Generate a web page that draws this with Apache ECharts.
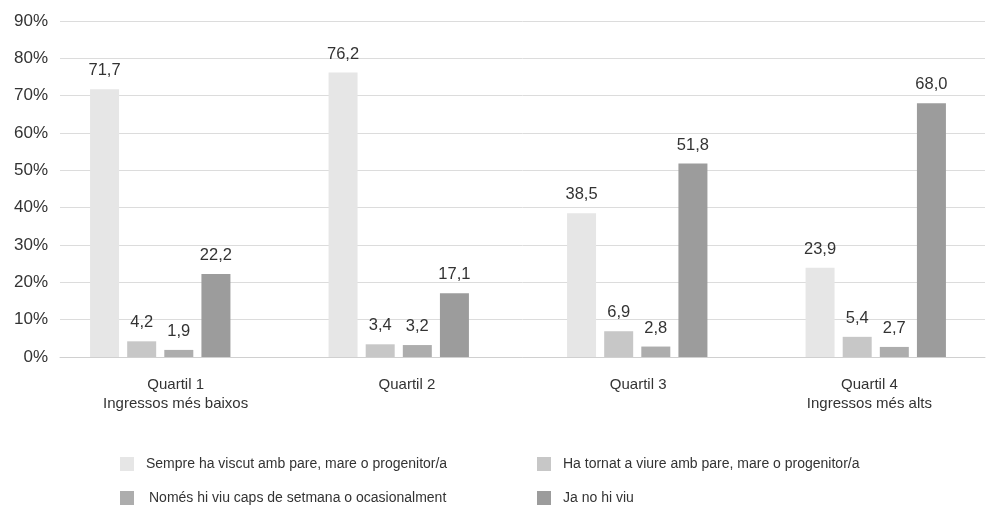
<!DOCTYPE html>
<html>
<head>
<meta charset="utf-8">
<script src="https://cdn.jsdelivr.net/npm/echarts@6/dist/echarts.min.js"></script>
<style>
html, body { margin: 0; padding: 0; background: #fff; }
#chart { width: 1002px; height: 505px; }
</style>
</head>
<body>
<div id="chart"></div>
<script>
// categories (quartils d'ingressos)
const quartils = ['Quartil 1\nIngressos més baixos', 'Quartil 2', 'Quartil 3', 'Quartil 4\nIngressos més alts']
// series names
const noms = [
	'Sempre ha viscut amb pare, mare o progenitor/a',
	'Ha tornat a viure amb pare, mare o progenitor/a',
	'Només hi viu caps de setmana o ocasionalment',
	'Ja no hi viu'
]
// values (%)
const sempre = [71.7, 76.2, 38.5, 23.9]
const tornat = [4.2, 3.4, 6.9, 5.4]
const ocasional = [1.9, 3.2, 2.8, 2.7]
const jaNo = [22.2, 17.1, 51.8, 68.0]
const colors = ['#e6e6e6', '#c7c7c7', '#adadad', '#9c9c9c']

const chart = echarts.init(document.getElementById('chart'))
const font = 'Liberation Sans, Arial, sans-serif'

// etiqueta amb coma decimal
function fmt(p) {
	return p.value.toFixed(1).replace('.', ',')
}

const dades = [sempre, tornat, ocasional, jaNo]
const series = dades.map(function (d, i) {
	return {
		name: noms[i],
		type: 'bar',
		xAxisIndex: 1,
		yAxisIndex: 1,
		data: d,
		barWidth: 29,
		barGap: '28%',
		itemStyle: { color: colors[i] },
		label: {
			show: true,
			position: 'top',
			distance: 10,
			formatter: fmt,
			fontFamily: font,
			fontSize: 16.5,
			color: '#333'
		}
	}
})

// una llegenda per element, posicions fixes
const legPos = [[115, 452], [532, 452], [115, 486], [532, 486]]
const legends = noms.map(function (n, i) {
	return {
		data: [n],
		left: legPos[i][0],
		top: legPos[i][1],
		itemWidth: 14,
		itemHeight: 14,
		icon: 'rect',
		textStyle: { fontFamily: font, fontSize: 14, color: '#333', padding: [0, 0, 0, i == 2 ? 10 : 7] }
	}
})

const option = {
	animation: false,
	backgroundColor: '#fff',
	grid: [
		{ left: 60, right: 17, top: 21, bottom: 148 },
		{ left: 41, right: 7, top: 21, bottom: 148 }
	],
	legend: legends,
	xAxis: [
		{
			type: 'category',
			gridIndex: 0,
			data: quartils,
			axisLine: { lineStyle: { color: '#d0d0d0' } },
			axisTick: { show: false },
			axisLabel: { fontFamily: font, fontSize: 15, color: '#333', margin: 18, lineHeight: 19 }
		},
		{
			type: 'category',
			gridIndex: 1,
			data: quartils,
			show: false
		}
	],
	yAxis: [
		{
			type: 'value',
			gridIndex: 0,
			min: 0,
			max: 90,
			interval: 10,
			axisLine: { show: false },
			axisTick: { show: false },
			splitLine: { lineStyle: { color: '#dcdcdc' } },
			axisLabel: { formatter: '{value}%', fontFamily: font, fontSize: 17, color: '#333', margin: 12 }
		},
		{
			type: 'value',
			gridIndex: 1,
			min: 0,
			max: 90,
			interval: 10,
			show: false
		}
	],
	series: series
}

chart.setOption(option)
</script>
</body>
</html>
